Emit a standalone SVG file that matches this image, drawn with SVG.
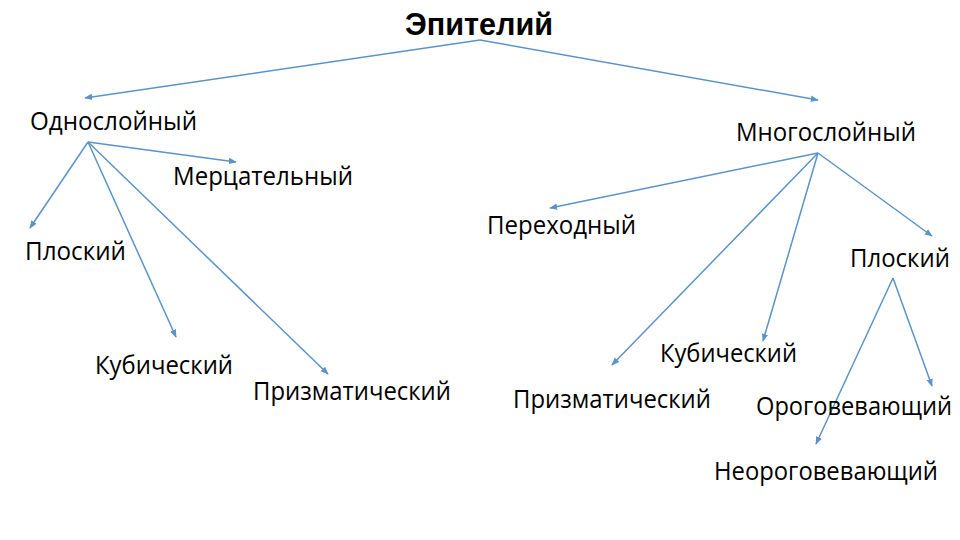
<svg xmlns="http://www.w3.org/2000/svg" width="960" height="540" viewBox="0 0 960 540">
<style>
.t{font-family:"Open Sans","Noto Sans","Liberation Sans",sans-serif;font-size:25px;fill:#000}
.h{font-family:"Liberation Sans",Arial,sans-serif;font-size:31px;font-weight:bold;fill:#000}
.c line{stroke:#5B93C8;stroke-width:1.5;fill:none;marker-end:url(#a)}
</style>
<defs>
<marker id="a" viewBox="0 0 10 10" refX="9" refY="5" markerWidth="8" markerHeight="8" markerUnits="userSpaceOnUse" orient="auto">
<path d="M0,1 L10,5 L0,9 z" fill="#5B93C8"/>
</marker>
</defs>
<rect width="960" height="540" fill="#fff"/>
<g class="c" id="connectors">
<line x1="480" y1="40" x2="85" y2="98"/>
<line x1="480" y1="40" x2="818" y2="100"/>
<line x1="88" y1="142" x2="236" y2="162"/>
<line x1="88" y1="142" x2="30" y2="228"/>
<line x1="88" y1="142" x2="176" y2="337"/>
<line x1="88" y1="142" x2="328" y2="374"/>
<line x1="818" y1="153" x2="550" y2="208"/>
<line x1="818" y1="153" x2="612" y2="365"/>
<line x1="818" y1="153" x2="763" y2="341"/>
<line x1="818" y1="153" x2="932" y2="236"/>
<line x1="893" y1="278" x2="932" y2="386"/>
<line x1="893" y1="278" x2="816" y2="444"/>
</g>
<g id="n0"><text class="h" x="405" y="35" textLength="148" lengthAdjust="spacingAndGlyphs">Эпителий</text></g>
<g id="n1"><text class="t" x="30" y="130" textLength="167" lengthAdjust="spacingAndGlyphs">Однослойный</text></g>
<g id="n2"><text class="t" x="736" y="141" textLength="180" lengthAdjust="spacingAndGlyphs">Многослойный</text></g>
<g id="n3"><text class="t" x="173" y="185" textLength="180" lengthAdjust="spacingAndGlyphs">Мерцательный</text></g>
<g id="n4"><text class="t" x="25" y="260" textLength="101" lengthAdjust="spacingAndGlyphs">Плоский</text></g>
<g id="n5"><text class="t" x="95" y="374" textLength="138" lengthAdjust="spacingAndGlyphs">Кубический</text></g>
<g id="n6"><text class="t" x="253" y="400" textLength="198" lengthAdjust="spacingAndGlyphs">Призматический</text></g>
<g id="n7"><text class="t" x="487" y="234" textLength="149" lengthAdjust="spacingAndGlyphs">Переходный</text></g>
<g id="n8"><text class="t" x="850" y="267" textLength="100" lengthAdjust="spacingAndGlyphs">Плоский</text></g>
<g id="n9"><text class="t" x="660" y="362" textLength="137" lengthAdjust="spacingAndGlyphs">Кубический</text></g>
<g id="n10"><text class="t" x="513" y="408" textLength="198" lengthAdjust="spacingAndGlyphs">Призматический</text></g>
<g id="n11"><text class="t" x="756" y="415" textLength="196" lengthAdjust="spacingAndGlyphs">Ороговевающий</text></g>
<g id="n12"><text class="t" x="714" y="480" textLength="224" lengthAdjust="spacingAndGlyphs">Неороговевающий</text></g>
</svg>
